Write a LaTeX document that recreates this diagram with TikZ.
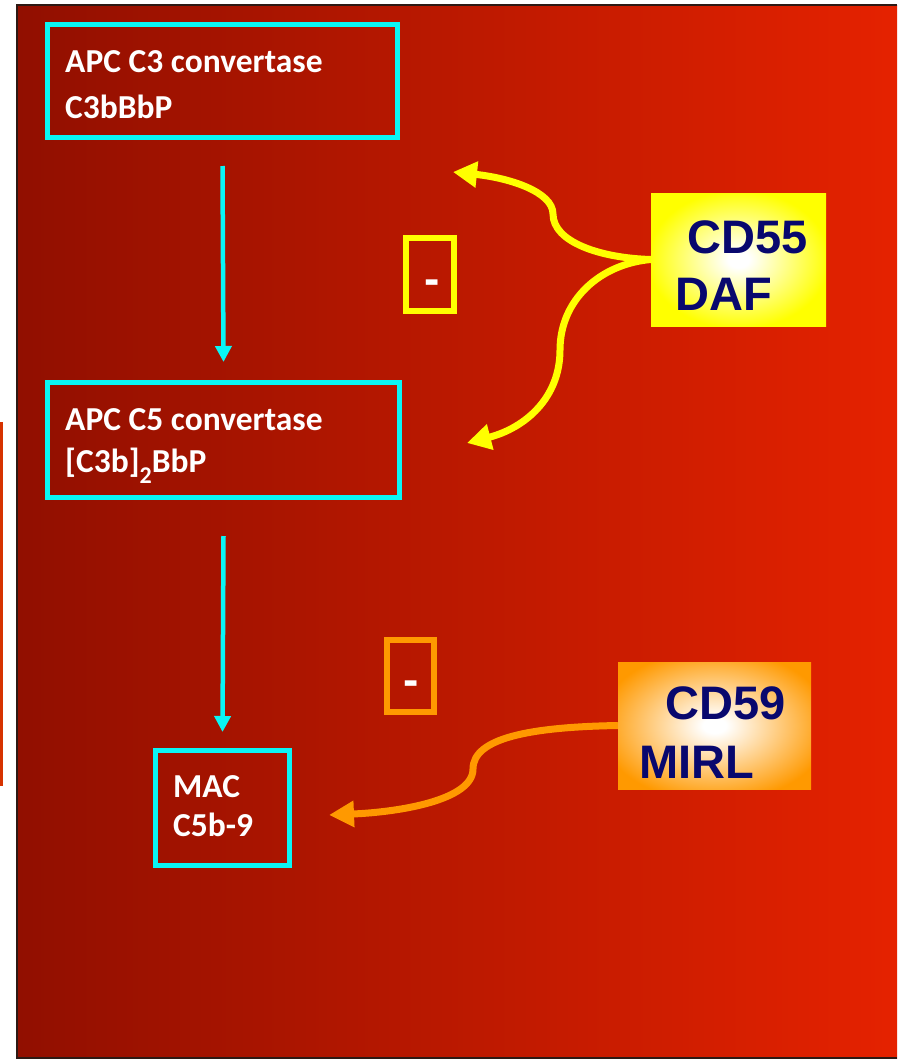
\documentclass[tikz,border=0pt]{standalone}
\usepackage{fontspec}
\setmainfont{Carlito}
\newfontfamily\arialfont{Liberation Sans}
\usetikzlibrary{arrows.meta}
\definecolor{bgL}{RGB}{145,15,0}
\definecolor{bgR}{RGB}{229,34,0}
\definecolor{cyanc}{RGB}{10,245,245}
\definecolor{navy}{RGB}{8,8,110}
\definecolor{orng}{RGB}{255,153,0}
\definecolor{yel}{RGB}{255,255,0}
\definecolor{framec}{RGB}{45,25,20}
\definecolor{sidebar}{RGB}{214,50,0}
\pgfdeclareradialshading{glowY}{\pgfpoint{0bp}{0bp}}{color(0bp)=(white); color(3bp)=(white); color(26bp)=(yel); color(50bp)=(yel)}
\pgfdeclareradialshading{glowO}{\pgfpoint{0bp}{0bp}}{color(0bp)=(white); color(3bp)=(white); color(30bp)=(orng); color(50bp)=(orng)}
\tikzset{
  cbox/.style={draw=cyanc, line width=5pt, inner sep=0pt},
  lbl/.style={text=white, font=\bfseries\fontsize{33.5}{46}\selectfont, inner sep=0pt, anchor=base west},
  big/.style={text=navy, font=\arialfont\bfseries\fontsize{47}{57}\selectfont, inner sep=0pt, anchor=base west},
  minusbox/.style={line width=6pt, inner sep=0pt},
  minus/.style={text=white, font=\arialfont\bfseries\fontsize{46}{46}\selectfont, inner sep=0pt, anchor=base},
  flow/.style={cyanc, line width=4.5pt, -{Triangle[length=16pt,width=16pt]}},
  yarrow/.style={yel, line width=7pt, -{Triangle[length=24pt,width=25pt]}},
  oarrow/.style={orng, line width=7pt, -{Triangle[length=25pt,width=25pt]}}
}
\begin{document}
\begin{tikzpicture}[x=1pt,y=-1pt]
\useasboundingbox (0,0) rectangle (897,1060);
% background
\fill[white] (0,0) rectangle (897,1060);
\fill[sidebar] (0,422) rectangle (3,786);
\fill[left color=bgL, right color=bgR] (17,5) rectangle (897,1058);
\draw[framec, line width=2pt] (897,5) -- (17,5) -- (17,1058) -- (897,1058);

% boxes
\node[cbox, minimum width=350pt, minimum height=113pt] (b1) at (222.5,81) {};
\node[cbox, minimum width=352pt, minimum height=115pt] (b2) at (223.5,440) {};
\node[cbox, minimum width=134pt, minimum height=115pt] (b3) at (222.5,808) {};

\node[lbl] (t1a) at (65,72) {APC C3 convertase};
\node[lbl] (t1b) at (65,118) {C3bBbP};
\node[lbl] (t2a) at (65,430) {APC C5 convertase};
\node[lbl] (t2b) at (65,472) {[C3b]\raisebox{-11pt}{\fontsize{24}{24}\selectfont 2}BbP};
\node[lbl] (t3a) at (173,797) {MAC};
\node[lbl] (t3b) at (173,836) {C5b-9};

% flow arrows
\draw[flow] ([yshift=-26pt]b1.south) -- ([yshift=18pt]b2.north);
\draw[flow] ([yshift=-36pt]b2.south) -- ([yshift=16pt]b3.north);

% minus boxes
\node[minusbox, draw=yel, minimum width=48pt, minimum height=73pt] (m1) at (429.5,274) {};
\node[minus] (m1t) at (432.5,294) {-};
\node[minusbox, draw=orng, minimum width=47pt, minimum height=72pt] (m2) at (410.5,676) {};
\node[minus] (m2t) at (411,695) {-};

% regulator boxes
\node[shading=glowY, minimum width=175pt, minimum height=133pt, inner sep=0pt] (cd55) at (738.5,259.5) {};
\node[big] (cd55a) at (687,253) {CD55};
\node[big] (cd55b) at (675,310) {DAF};
\node[shading=glowO, minimum width=193pt, minimum height=127pt, inner sep=0pt] (cd59) at (714.5,725.5) {};
\node[big] (cd59a) at (665,719) {CD59};
\node[big] (cd59b) at (639,778) {MIRL};

% targets
\coordinate (y1) at (453,172);
\coordinate (y2) at (467,443);
\coordinate (o1) at (329,815);

\draw[yarrow] (cd55.west) .. controls (600,258) and (553,242) .. (553,214) .. controls (553,192) and (510,178) .. (y1);
\draw[yarrow] (cd55.west) .. controls (600,264) and (560,300) .. (560,350) .. controls (560,398) and (525,428) .. (y2);
\draw[oarrow] (cd59.west) .. controls (530,727) and (473,738) .. (473,769) .. controls (473,800) and (400,812) .. (o1);
\end{tikzpicture}
\end{document}
